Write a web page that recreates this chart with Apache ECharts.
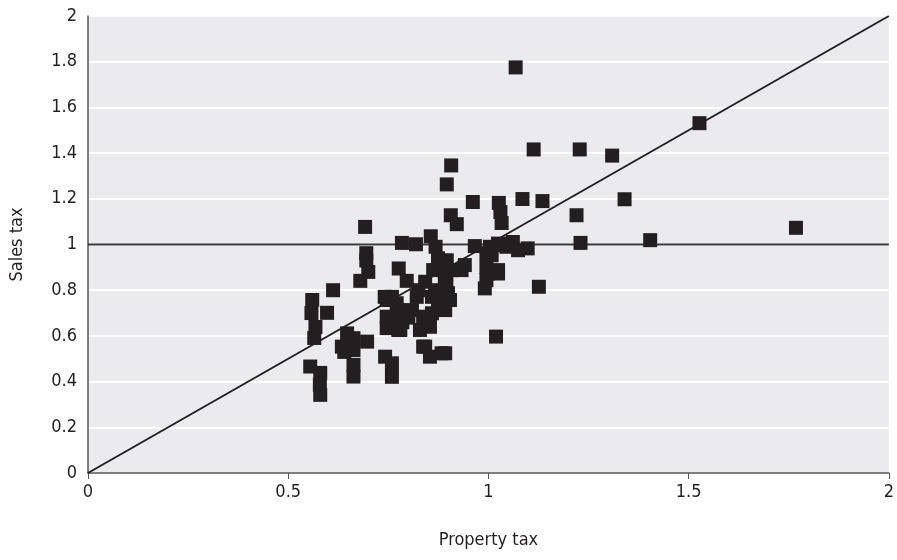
<!DOCTYPE html>
<html>
<head>
<meta charset="utf-8">
<script src="https://cdn.jsdelivr.net/npm/echarts@6/dist/echarts.min.js"></script>
<style>
html,body{margin:0;padding:0;background:#fff;}
#chart{width:897px;height:560px;}
</style>
</head>
<body>
<div id="chart"></div>
<script>
// Property tax (x) vs Sales tax (y)
const propertyTax = [
  0.560,0.558,0.568,0.565,0.597,0.612,0.555,0.580,0.579,0.580,
  0.647,0.634,0.697,0.663,0.663,0.663,0.663,0.640,
  0.692,0.695,0.695,0.700,0.680,
  0.741,0.746,0.746,0.746,0.742,0.759,0.759,0.759,0.775,0.775,0.759,0.771,0.762,0.780,
  0.784,0.819,0.856,0.868,0.776,0.874,0.862,0.796,0.842,0.891,0.825,0.867,0.899,0.821,0.859,
  0.809,0.859,0.842,0.829,0.874,0.842,0.854,0.892,0.800,0.785,0.837,0.854,0.837,0.883,0.879,
  0.907,0.896,0.906,0.921,0.896,0.941,0.895,0.895,0.904,0.892,0.933,0.961,0.966,0.907,
  0.995,0.995,0.995,0.991,1.004,1.029,1.058,1.098,1.074,1.045,1.024,1.024,0.999,1.008,1.019,
  1.026,1.030,1.033,1.085,1.135,1.113,1.126,1.061,1.024,
  1.068,1.228,1.309,1.527,1.340,1.220,1.230,1.404,1.768
];
const salesTax = [
  0.757,0.700,0.639,0.591,0.701,0.800,0.466,0.438,0.386,0.342,
  0.611,0.553,0.575,0.538,0.590,0.473,0.422,0.530,
  1.077,0.962,0.930,0.880,0.841,
  0.771,0.757,0.684,0.634,0.509,0.480,0.421,0.655,0.626,0.713,0.771,0.743,0.656,0.626,
  1.007,1.001,1.036,0.990,0.895,0.940,0.888,0.841,0.837,0.859,0.800,0.800,0.787,0.771,0.771,
  0.713,0.699,0.655,0.626,0.727,0.553,0.509,0.524,0.680,0.660,0.684,0.640,0.553,0.524,0.787,
  1.346,1.263,1.128,1.089,0.931,0.910,0.873,0.815,0.757,0.713,0.888,1.186,0.993,0.888,
  0.962,0.902,0.844,0.808,0.990,0.997,1.004,0.983,0.975,0.990,0.888,0.873,0.873,0.953,0.597,
  1.182,1.142,1.094,1.199,1.190,1.416,0.815,1.011,1.004,
  1.775,1.416,1.389,1.531,1.198,1.128,1.007,1.019,1.073
];
const xTicks = [0, 0.5, 1, 1.5, 2];
const yTicks = [0, 0.2, 0.4, 0.6, 0.8, 1, 1.2, 1.4, 1.6, 1.8, 2];
const diagonal = [[0, 0], [2, 2]];
const referenceLine = [[0, 1], [2, 1]];

const points = propertyTax.map((x, i) => [x, salesTax[i]]);
const font = '"Liberation Sans Narrow","DejaVu Sans Condensed","Roboto",sans-serif';

const chart = echarts.init(document.getElementById('chart'));
chart.setOption({
  animation: false,
  backgroundColor: '#ffffff',
  grid: { left: 87, right: 7, top: 16, bottom: 87, show: true, backgroundColor: '#ebebed', borderWidth: 0 },
  xAxis: {
    type: 'value', min: 0, max: 2, interval: 0.5,
    name: 'Property tax', nameLocation: 'middle', nameGap: 58,
    nameTextStyle: { fontFamily: font, fontSize: 18, color: '#231f20' },
    axisLine: { show: true, lineStyle: { color: '#555', width: 1.5 } },
    axisTick: { show: true, length: 6, lineStyle: { color: '#555' } },
    axisLabel: { fontFamily: font, fontSize: 18, color: '#231f20', margin: 10,
      formatter: v => xTicks.includes(v) ? String(v) : '' },
    splitLine: { show: false }
  },
  yAxis: {
    type: 'value', min: 0, max: 2, interval: 0.2,
    name: 'Sales tax', nameLocation: 'middle', nameGap: 62, nameRotate: 90,
    nameTextStyle: { fontFamily: font, fontSize: 18, color: '#231f20' },
    axisLine: { show: true, lineStyle: { color: '#555', width: 1.5 } },
    axisTick: { show: false },
    axisLabel: { fontFamily: font, fontSize: 18, color: '#231f20', margin: 11,
      formatter: v => { const t = yTicks.find(a => Math.abs(a - v) < 1e-9); return t === undefined ? '' : String(t); } },
    splitLine: { show: true, lineStyle: { color: '#ffffff', width: 2 } }
  },
  series: [
    { type: 'line', data: referenceLine, symbol: 'none', silent: true, z: 1,
      lineStyle: { color: '#3a3a3a', width: 2 } },
    { type: 'line', data: diagonal, symbol: 'none', silent: true, z: 1,
      lineStyle: { color: '#231f20', width: 2 } },
    { type: 'scatter', data: points, symbol: 'rect', symbolSize: 14, z: 3,
      itemStyle: { color: '#231f20', opacity: 1 } }
  ]
});
</script>
</body>
</html>
